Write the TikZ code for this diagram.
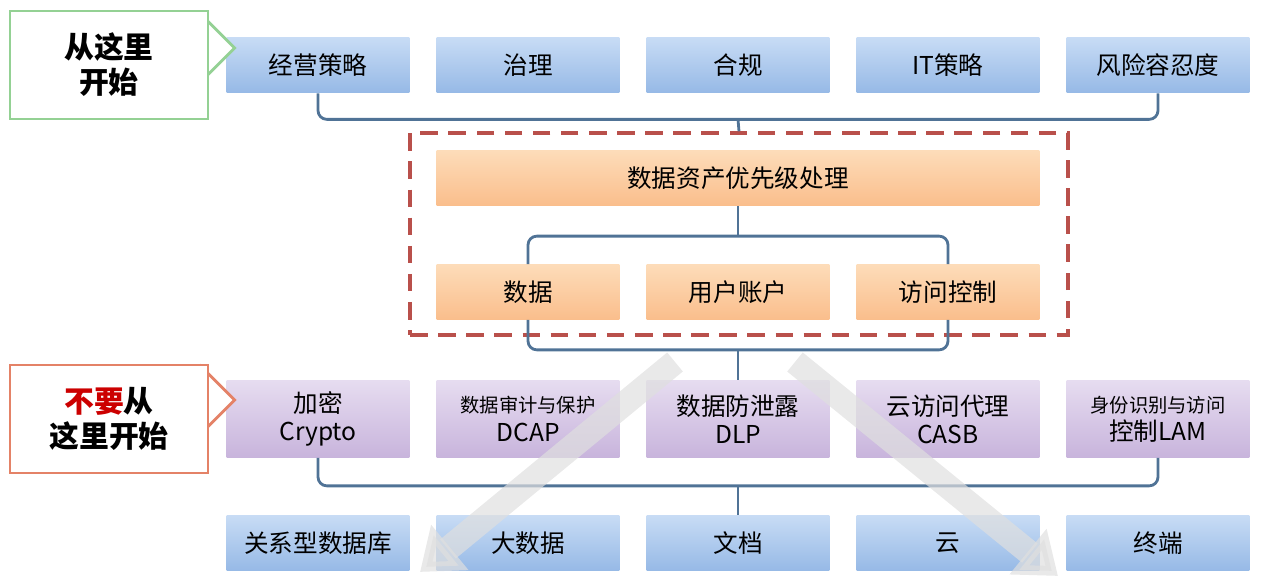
\documentclass[tikz,border=0pt]{standalone}
\usepackage{fontspec}
\setmainfont{Noto Sans CJK SC}
\usetikzlibrary{shapes.arrows,arrows.meta}
\definecolor{bluetop}{RGB}{200,220,245}
\definecolor{bluebot}{RGB}{150,185,230}
\definecolor{orgtop}{RGB}{253,220,185}
\definecolor{orgbot}{RGB}{250,190,140}
\definecolor{purtop}{RGB}{230,220,240}
\definecolor{purbot}{RGB}{200,180,220}
\definecolor{bracecol}{RGB}{80,115,150}
\definecolor{dashred}{RGB}{185,80,75}
\begin{document}
\begin{tikzpicture}[x=0.02cm,y=-0.02cm]
        \tikzstyle{blue}=[rectangle,top color=bluetop,bottom color=bluebot,minimum width=3.66cm,minimum height=1.12cm,inner sep=0pt,font=\fontsize{14}{16}\selectfont]
        \tikzstyle{org}=[rectangle,top color=orgtop,bottom color=orgbot,minimum height=1.1cm,inner sep=0pt,font=\fontsize{14}{16}\selectfont]
        \tikzstyle{pur}=[rectangle,top color=purtop,bottom color=purbot,minimum width=3.66cm,minimum height=1.54cm,inner sep=0pt,align=center,font=\fontsize{14}{16}\selectfont]
        \tikzstyle{brace}=[draw=bracecol,line width=1.6pt,rounded corners=5pt]
        \tikzstyle{callout}=[draw,line width=1.6pt,fill=white,align=center,minimum width=3.96cm,minimum height=2.16cm,font=\fontsize{17}{20}\selectfont\bfseries]
        \tikzstyle{fat}=[single arrow,draw,line width=1.6pt,fill=white,minimum height=1.0cm,inner sep=0.28cm,single arrow head extend=0.35cm,single arrow head indent=0pt]
        \tikzstyle{shade}=[line width=14pt,draw=gray!25,opacity=0.7,-{Triangle[length=22pt,width=32pt]}]
        \useasboundingbox (0,0) rectangle (1262,588);
        % top row
        \node [blue] (strat) at (318,65) {经营策略};
        \node [blue] (gov) at (528,65) {治理};
        \node [blue] (comp) at (738,65) {合规};
        \node [blue] (itstrat) at (948,65) {IT策略};
        \node [blue] (risk) at (1158,65) {风险容忍度};
        % middle
        \node [draw=dashred,line width=2pt,dash pattern=on 10pt off 6pt,minimum width=13.16cm,minimum height=4.04cm] (focus) at (739,234) {};
        \node [org,minimum width=12.06cm] (prio) at (738,178) {数据资产优先级处理};
        \node [org,minimum width=3.66cm] (data) at (528,292) {数据};
        \node [org,minimum width=3.66cm] (user) at (738,292) {用户账户};
        \node [org,minimum width=3.66cm] (acc) at (948,292) {访问控制};
        % tools
        \node [pur] (crypto) at (318,419) {加密\\Crypto};
        \node [pur] (dcap) at (528,419) {{\fontsize{11}{13}\selectfont 数据审计与保护}\\DCAP};
        \node [pur] (dlp) at (738,419) {数据防泄露\\DLP};
        \node [pur] (casb) at (948,419) {云访问代理\\CASB};
        \node [pur] (lam) at (1158,419) {{\fontsize{11}{13}\selectfont 身份识别与访问}\\控制LAM};
        % bottom row
        \node [blue] (rdb) at (318,543) {关系型数据库};
        \node [blue] (big) at (528,543) {大数据};
        \node [blue] (doc) at (738,543) {文档};
        \node [blue] (cloud) at (948,543) {云};
        \node [blue] (endp) at (1158,543) {终端};
        % braces
        \draw [brace] (strat.south) -- ++(0,26) -| (risk.south);
        \draw [brace] (comp.south) ++(0,26) -- (focus.north);
        \draw [brace] (data.north) -- ++(0,-28) -| (acc.north);
        \draw [brace] (user.north) ++(0,-28) -- (prio.south);
        \draw [brace] (data.south) -- ++(0,30) -| (acc.south);
        \draw [brace] (user.south) ++(0,30) -- (dlp.north);
        \draw [brace] (crypto.south) -- ++(0,28) -| (lam.south);
        \draw [brace] (dlp.south) ++(0,28) -- (doc.north);
        % shaded arrows
        \coordinate (a1) at (675,362);
        \coordinate (a2) at (420,572);
        \coordinate (b1) at (795,362);
        \coordinate (b2) at (1058,576);
        \draw [shade] (a1) -- (a2);
        \draw [shade] (b1) -- (b2);
        % callouts
        \node [fat,draw=green!40!gray!60] (arrA) at (202,48) {};
        \node [callout,draw=green!40!gray!60] (start) at (109,65) {从这里\\开始};
        \node [fat,draw=red!40!brown!70] (arrB) at (202,400) {};
        \node [callout,draw=red!40!brown!70] (nostart) at (109,419) {{\color{red!80!black}不要}从\\这里开始};
\end{tikzpicture}
\end{document}
